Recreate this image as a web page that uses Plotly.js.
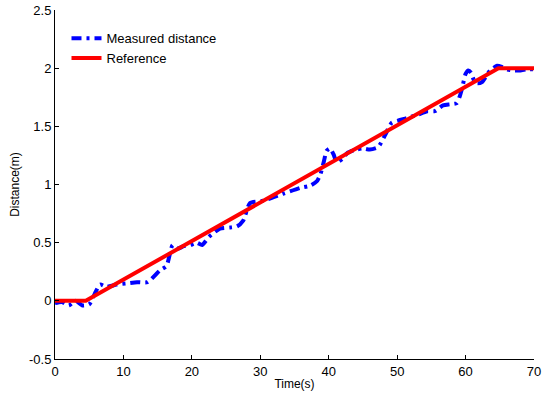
<!DOCTYPE html>
<html>
<head>
<meta charset="utf-8">
<script src="https://cdn.plot.ly/plotly-3.0.1.min.js"></script>
<style>html,body{margin:0;padding:0;background:#fff;}#chart{width:552px;height:393px;}</style>
</head>
<body>
<div id="chart"></div>
<script>
const measuredT = [0, 1, 2, 3, 4, 5, 5.8, 6.6, 7.5, 9, 10.5, 12, 13.5, 15.3, 16.3, 17.2, 18, 18.8, 19.8, 20.7, 21.5, 22.5, 24.1, 25.6, 26.6, 27.5, 28.5, 30.4, 33.3, 35.8, 37.3, 38.3, 38.8, 39.3, 39.7, 40.2, 40.7, 41.2, 42, 42.7, 44, 45, 46, 47.2, 48.2, 49.2, 50.2, 51.4, 53, 54.4, 55.5, 56.7, 57.8, 58.7, 59.1, 59.5, 60, 60.4, 60.8, 61.2, 61.7, 62.4, 63, 63.6, 64.6, 65.3, 66, 67, 68, 69, 70];
const measuredD = [-0.02, -0.01, -0.04, 0.0, -0.04, -0.03, 0.06, 0.14, 0.12, 0.14, 0.15, 0.16, 0.16, 0.26, 0.30, 0.48, 0.45, 0.47, 0.48, 0.50, 0.48, 0.55, 0.62, 0.63, 0.64, 0.69, 0.84, 0.86, 0.92, 0.97, 0.99, 1.03, 1.09, 1.20, 1.29, 1.31, 1.26, 1.19, 1.22, 1.27, 1.30, 1.31, 1.30, 1.32, 1.42, 1.53, 1.55, 1.57, 1.60, 1.63, 1.63, 1.68, 1.69, 1.70, 1.75, 1.83, 1.95, 1.98, 1.96, 1.90, 1.87, 1.88, 1.93, 1.98, 2.02, 2.01, 1.99, 1.98, 1.98, 1.99, 1.99];
const referenceT = [0, 4.5, 64.8, 70];
const referenceD = [0, 0, 2, 2];
const xTicks = [0, 10, 20, 30, 40, 50, 60, 70];
const yTicks = [-0.5, 0, 0.5, 1, 1.5, 2, 2.5];

const traces = [
  {x: measuredT, y: measuredD, name: 'Measured distance', mode: 'lines', line: {color: '#0000ff', width: 4, dash: '10px,5px,3px,5px', shape: 'spline', smoothing: 0.6}},
  {x: referenceT, y: referenceD, name: 'Reference', mode: 'lines', line: {color: '#ff0000', width: 4}}
];
const fam = 'Liberation Sans, Arial, sans-serif';
const axisFont = {family: fam, size: 13, color: '#000'};
const layout = {
  width: 552, height: 393,
  margin: {l: 55, r: 18, t: 10, b: 34},
  paper_bgcolor: '#fff', plot_bgcolor: '#fff',
  showlegend: true,
  legend: {x: 0.024, y: 0.962, xanchor: 'left', yanchor: 'top', bgcolor: 'rgba(0,0,0,0)', font: {family: fam, size: 13, color: '#000'}, tracegroupgap: 0, itemwidth: 30},
  xaxis: {range: [0, 70], tickvals: xTicks, ticks: 'inside', ticklen: 4, tickcolor: '#000', showline: true, linecolor: '#000', linewidth: 1, showgrid: false, zeroline: false, tickfont: axisFont,
          title: {text: 'Time(s)', font: {family: fam, size: 12, color: '#000'}, standoff: 2}},
  yaxis: {range: [-0.5, 2.5], tickvals: yTicks, ticktext: yTicks.map(String), ticks: 'inside', ticklen: 4, tickcolor: '#000', showline: true, linecolor: '#000', linewidth: 1, showgrid: false, zeroline: false, tickfont: axisFont,
          title: {text: 'Distance(m)', font: {family: fam, size: 12, color: '#000'}, standoff: 6}}
};
Plotly.newPlot('chart', traces, layout, {displayModeBar: false, staticPlot: true});
</script>
</body>
</html>
